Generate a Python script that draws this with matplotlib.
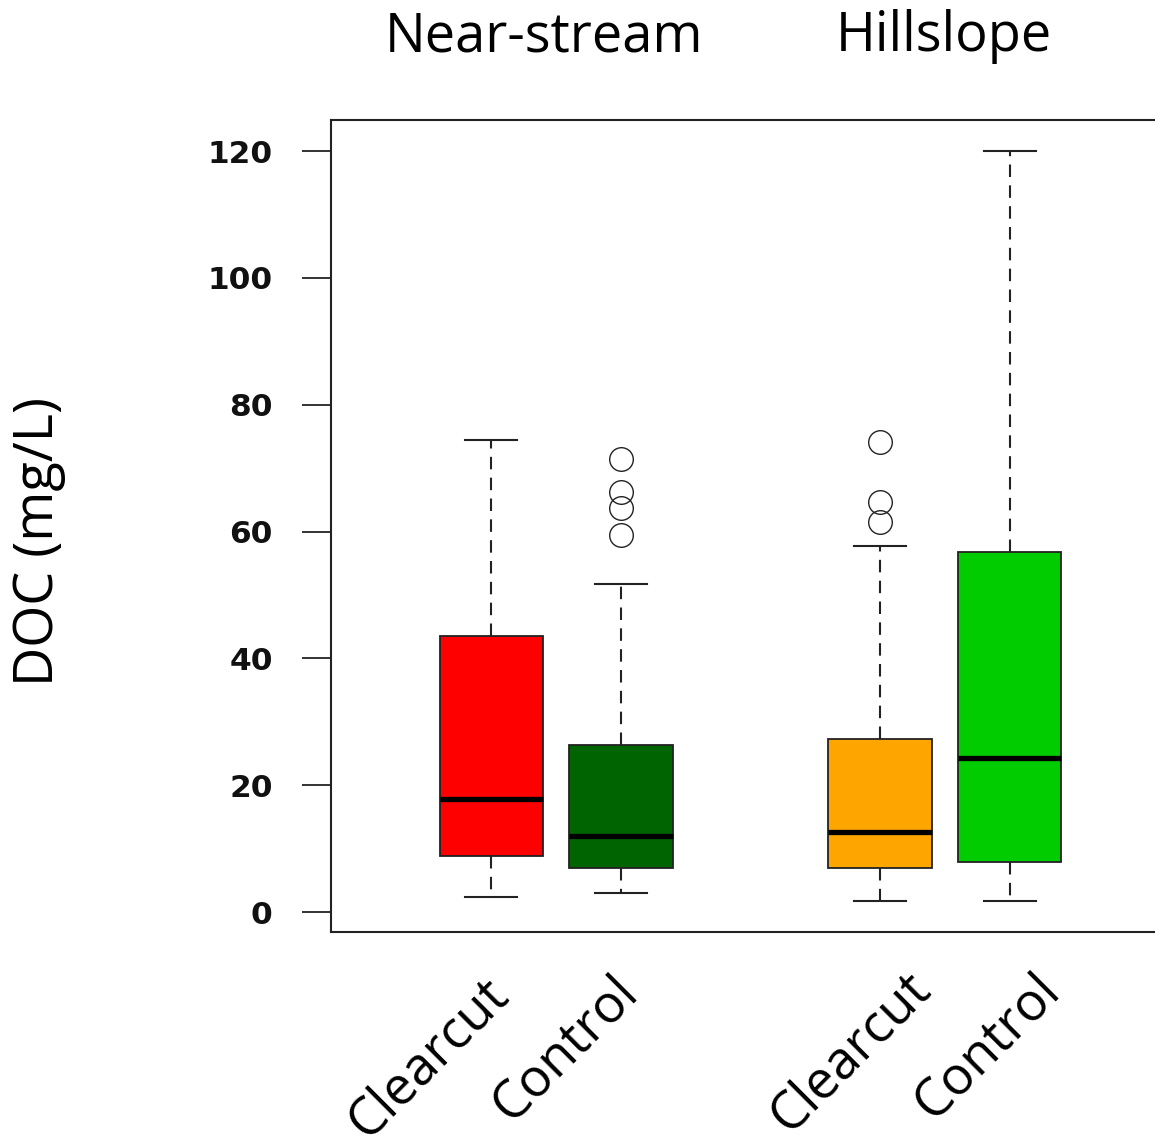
import numpy as np
import matplotlib.pyplot as plt

# DOC values
labels = ['Clearcut', 'Control', 'Clearcut', 'Control']
whislo = [2.4, 3.0, 1.7, 1.7]
q1 = [8.8, 6.9, 6.9, 7.9]
med = [17.8, 12.0, 12.6, 24.3]
q3 = [43.5, 26.3, 27.3, 56.8]
whishi = [74.4, 51.7, 57.7, 120.0]
fliers = [[], [71.4, 66.2, 63.7, 59.5], [74.1, 64.7, 61.5], []]
colors = ['#FF0000', '#006400', '#FFA500', '#00CC00']
groups = ['Near-stream', 'Hillslope']
yticks = [0, 20, 40, 60, 80, 100, 120]

pos = [1, 2, 4, 5]
txt_font = ['Open Sans', 'DejaVu Sans']
W, H = 1155, 1147

fig = plt.figure(figsize=(W / 100, H / 100), dpi=100)
ax = fig.add_axes([331/W, 1 - 932/H, (1170 - 331)/W, (932 - 120)/H])

stats = []
for i in range(len(labels)):
    stats.append(dict(label=labels[i], whislo=whislo[i], q1=q1[i], med=med[i],
                      q3=q3[i], whishi=whishi[i], fliers=fliers[i]))

bp = ax.bxp(stats, positions=pos, widths=0.8, patch_artist=True,
            capwidths=0.4,
            boxprops=dict(edgecolor='#222222', linewidth=1.3),
            medianprops=dict(color='black', linewidth=3.8, solid_capstyle='butt'),
            whiskerprops=dict(color='#222222', linewidth=1.5, linestyle=(0, (6, 4))),
            capprops=dict(color='#222222', linewidth=1.5),
            flierprops=dict(marker='o', markersize=17, markerfacecolor='none',
                            markeredgecolor='#222222', markeredgewidth=1.0))
for patch, c in zip(bp['boxes'], colors):
    patch.set_facecolor(c)

ax.set_xlim(-0.238, 6.238)
ax.set_ylim(-3.15, 124.9)
ax.set_yticks(yticks)
ax.set_yticklabels([str(v) for v in yticks], fontfamily='DejaVu Sans',
                   fontweight='bold', fontsize=22.5)
ax.tick_params(axis='y', length=21, width=1.2, pad=21, colors='#111111')
ax.set_xticks([])
for s in ax.spines.values():
    s.set_linewidth(1.5)
    s.set_color('#222222')

# category labels sit a little right of their boxes, as in the picture
lab_ends = [(511, 997), (641, 995), (933, 991), (1063, 993)]
for lab, (px, py) in zip(labels, lab_ends):
    fig.text(px / W, 1 - py / H, lab, rotation=45, rotation_mode='anchor',
             ha='right', va='baseline', fontfamily=txt_font, fontsize=38)

fig.text(39 / W, 1 - 541 / H, 'DOC (mg/L)', rotation=90, ha='center', va='center',
         fontfamily=txt_font, fontsize=39)

fig.text(544/W, 1 - 37/H, groups[0], ha='center', va='center',
         fontfamily=txt_font, fontsize=39)
fig.text(944/W, 1 - 37/H, groups[1], ha='center', va='center',
         fontfamily=txt_font, fontsize=39)

fig.savefig('out.png', dpi=100)
